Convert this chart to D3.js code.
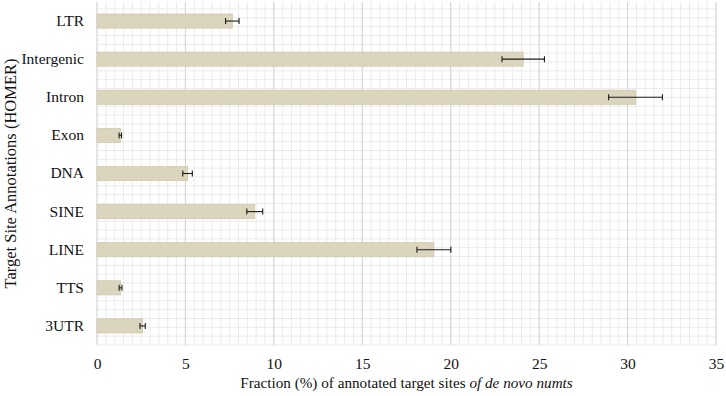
<!DOCTYPE html>
<html>
<head>
<meta charset="utf-8">
<script src="https://cdn.jsdelivr.net/npm/d3@7"></script>
<style>
  body { margin: 0; background: #fff; }
  text { font-family: "Liberation Serif", "Times New Roman", serif; fill: #111; }
</style>
</head>
<body>
<svg id="chart" width="726" height="396"></svg>
<script>
// values (percent), with error half-widths
const categories = ['LTR', 'Intergenic', 'Intron', 'Exon', 'DNA', 'SINE', 'LINE', 'TTS', '3UTR'];
const fractions = [7.65, 24.1, 30.45, 1.32, 5.12, 8.92, 19.05, 1.33, 2.58];
const errors = [0.38, 1.2, 1.52, 0.07, 0.27, 0.45, 0.96, 0.08, 0.15];
const xTicks = [0, 5, 10, 15, 20, 25, 30, 35];

const svg = d3.select('#chart');

// coordinate system settings
const cs = {
  plot: { left: 97, right: 716, top: 2, bottom: 345 },
  bar: { fill: '#dcd5bd', stroke: '#d0c8ad', padding: 0.63 },
  grid: { minor: '#ebebeb', major: '#d4d4d4', step: 0.5 },
  err: { color: '#1a1a1a', cap: 6 },
};

const x = d3.scaleLinear().domain([0, 35]).range([cs.plot.left, cs.plot.right]);
const y = d3.scaleBand().domain(categories)
  .range([cs.plot.top, cs.plot.bottom])
  .paddingInner(cs.bar.padding).paddingOuter(cs.bar.padding / 2);

const ds = categories.map((c, i) => ({ dim: c, metric: fractions[i], err: errors[i] }));

// background grid: minor every half unit, same pitch used vertically
const grid = svg.append('g');
const minorX = d3.range(0, 35 + 1e-9, cs.grid.step);
grid.selectAll('line.vmin').data(minorX).enter().append('line')
  .attr('x1', d => x(d)).attr('x2', d => x(d))
  .attr('y1', cs.plot.top).attr('y2', cs.plot.bottom)
  .attr('stroke', cs.grid.minor).attr('stroke-width', 1);

const pitch = x(cs.grid.step) - x(0);
const minorY = d3.range(cs.plot.bottom, cs.plot.top - 0.5, -pitch);
grid.selectAll('line.hmin').data(minorY).enter().append('line')
  .attr('x1', cs.plot.left).attr('x2', cs.plot.right)
  .attr('y1', d => d).attr('y2', d => d)
  .attr('stroke', cs.grid.minor).attr('stroke-width', 1);

grid.selectAll('line.vmaj').data(xTicks).enter().append('line')
  .attr('x1', d => x(d)).attr('x2', d => x(d))
  .attr('y1', cs.plot.top).attr('y2', cs.plot.bottom)
  .attr('stroke', cs.grid.major).attr('stroke-width', 1);

// bars
svg.append('g').selectAll('rect').data(ds).enter().append('rect')
  .attr('x', x(0))
  .attr('y', d => y(d.dim))
  .attr('width', d => x(d.metric) - x(0))
  .attr('height', y.bandwidth())
  .attr('fill', cs.bar.fill)
  .attr('stroke', cs.bar.stroke)
  .attr('stroke-width', 0.8);

// error bars
const eb = svg.append('g').attr('stroke', cs.err.color).attr('stroke-width', 1.1);
ds.forEach(d => {
  const cy = y(d.dim) + y.bandwidth() / 2;
  const lo = x(d.metric - d.err), hi = x(d.metric + d.err);
  eb.append('line').attr('x1', lo).attr('x2', hi).attr('y1', cy).attr('y2', cy);
  eb.append('line').attr('x1', lo).attr('x2', lo).attr('y1', cy - cs.err.cap / 2).attr('y2', cy + cs.err.cap / 2);
  eb.append('line').attr('x1', hi).attr('x2', hi).attr('y1', cy - cs.err.cap / 2).attr('y2', cy + cs.err.cap / 2);
});

// axes
const serif = '"Liberation Serif", "Times New Roman", serif';
const xAxis = d3.axisBottom(x).tickValues(xTicks).tickSize(0).tickPadding(13);
svg.append('g').attr('transform', `translate(0, ${cs.plot.bottom})`).call(xAxis)
  .attr('font-family', serif).attr('font-size', 15.5)
  .call(g => g.select('.domain').remove())
  .selectAll('text').attr('fill', '#111');

const yAxis = d3.axisLeft(y).tickSize(0).tickPadding(13);
svg.append('g').attr('transform', `translate(${cs.plot.left}, 0)`).call(yAxis)
  .attr('font-family', serif).attr('font-size', 15.5)
  .call(g => g.select('.domain').remove())
  .selectAll('text').attr('fill', '#111');

// axis titles
const xt = svg.append('text')
  .attr('x', (cs.plot.left + cs.plot.right) / 2).attr('y', 388)
  .attr('text-anchor', 'middle').style('font-size', '15.2px');
xt.append('tspan').text('Fraction (%) of annotated target sites ');
xt.append('tspan').style('font-style', 'italic').text('of de novo numts');

svg.append('text')
  .attr('transform', `translate(15.5, ${(cs.plot.top + cs.plot.bottom) / 2}) rotate(-90)`)
  .attr('text-anchor', 'middle').style('font-size', '16.5px')
  .text('Target Site Annotations (HOMER)');
</script>
</body>
</html>
